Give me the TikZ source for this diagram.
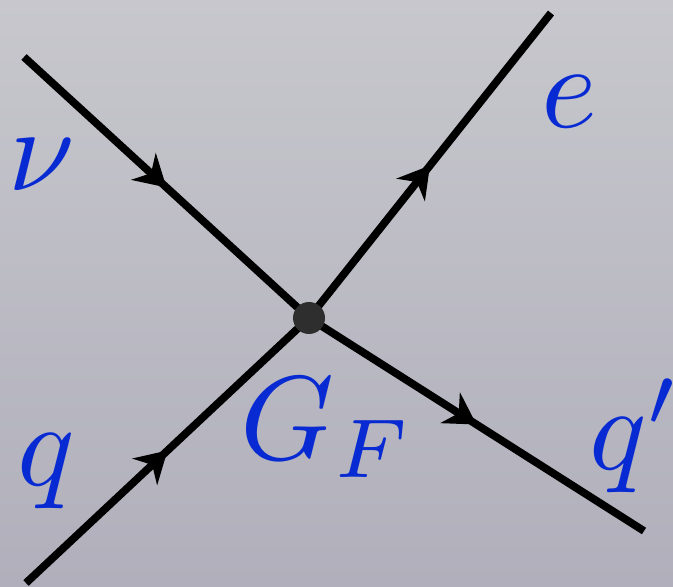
\documentclass[tikz,border=0pt]{standalone}
\usepackage{tikz}
\usetikzlibrary{arrows.meta}
\usetikzlibrary{decorations.markings}

\definecolor{bgtop}{RGB}{199,199,205}
\definecolor{bgbot}{RGB}{176,175,187}
\definecolor{lblblue}{RGB}{8,42,210}
\definecolor{vtxgray}{RGB}{46,46,46}

\tikzset{
  fermion/.style={line width=4.4pt,black,
    postaction={decorate},
    decoration={markings,
      mark=at position 0.5 with {\arrow{Stealth[length=0.62cm,width=0.72cm,inset=0.2cm]}}}},
  lbl/.style={text=lblblue,inner sep=0pt,scale=6.8,transform shape},
  vtx/.style={circle,fill=vtxgray,minimum size=0.64cm,inner sep=0pt}
}

\begin{document}
\begin{tikzpicture}
\shade[top color=bgtop,bottom color=bgbot] (0,0) rectangle (13.46,11.72);
\useasboundingbox (0,0) rectangle (13.46,11.72);

\coordinate (nuin) at (0.48,10.58);
\coordinate (qin) at (0.52,0.06);
\coordinate (eout) at (11.02,11.46);
\coordinate (qpout) at (12.88,1.10);
\coordinate (V) at (6.18,5.36);

\draw[fermion] (nuin) -- (V);
\draw[fermion] (qin) -- (V);
\draw[fermion] (V) -- (eout);
\draw[fermion] (V) -- (qpout);

\node[vtx] (GF) at (V) {};

\node[lbl] (nu) at (0.84,8.42) {$\nu$};
\node[lbl] (e) at (11.38,9.68) {$e$};
\node[lbl] (q) at (0.92,2.30) {$q$};
\node[lbl] (gf) at (6.54,3.16) {$G_F$};
\node[lbl] (qp) at (12.70,3.00) {$q'$};

\end{tikzpicture}
\end{document}
